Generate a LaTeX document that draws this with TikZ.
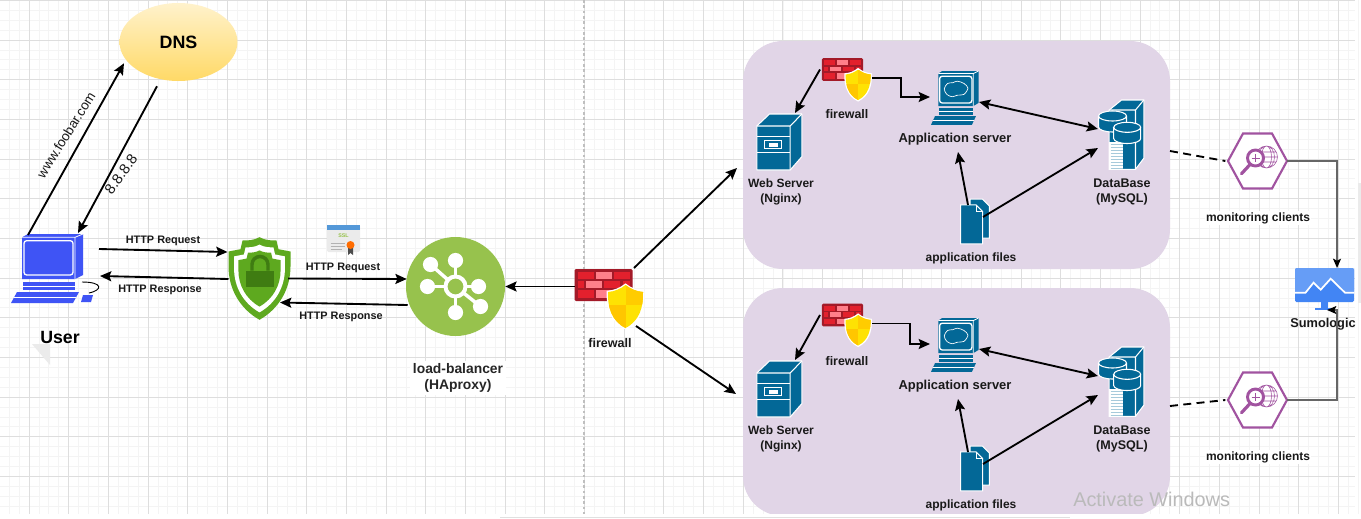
\documentclass[tikz,border=0pt]{standalone}
\usepackage{fontspec}
\setmainfont{Liberation Sans}
\usetikzlibrary{arrows.meta,shapes.geometric}

\definecolor{gridminor}{RGB}{244,244,244}
\definecolor{gridmajor}{RGB}{222,222,222}
\definecolor{usrblue}{RGB}{63,84,245}
\definecolor{srvteal}{RGB}{3,104,151}
\definecolor{panelfill}{RGB}{225,213,231}
\definecolor{lbgreen}{RGB}{151,194,77}
\definecolor{shieldgreen}{RGB}{94,169,31}
\definecolor{lockgreen}{RGB}{63,124,18}
\definecolor{brickdark}{RGB}{163,26,40}
\definecolor{brickred}{RGB}{227,32,45}
\definecolor{brickpink}{RGB}{255,127,138}
\definecolor{hexpurple}{RGB}{161,83,160}
\definecolor{sumolight}{RGB}{102,157,246}
\definecolor{sumodark}{RGB}{66,133,244}
\definecolor{dnstop}{RGB}{255,242,204}
\definecolor{dnsbottom}{RGB}{255,217,102}

\tikzset{
  every pic/.style={yscale=-1},
  arr/.style={-{Stealth[length=8.5pt,width=7.5pt,inset=1.5pt]},line width=1.4pt,black},
  biarr/.style={{Stealth[length=8.5pt,width=7.5pt,inset=1.5pt]}-{Stealth[length=8.5pt,width=7.5pt,inset=1.5pt]},line width=1.4pt,black},
  grayarr/.style={-{Stealth[length=7pt,width=6pt,inset=1.5pt,black]},line width=.9pt,black!60},
  dashline/.style={line width=1.4pt,black,dash pattern=on 6pt off 4pt},
  iconbox/.style={inner sep=0pt,outer sep=0pt,rectangle},
  lbl/.style={font=\bfseries\fontsize{9}{11.2}\selectfont,align=center,inner sep=0.75pt,text=black!90},
  lblhttp/.style={font=\bfseries\fontsize{8.15}{10}\selectfont,align=center,inner sep=0.75pt,text=black!90},
  lblbig/.style={font=\bfseries\fontsize{10.4}{12}\selectfont,align=center,inner sep=2pt,text=black!85},
  pics/pc/.style={code={
    \fill[#1] (11,3.3) -- (17,0) -- (72,0) -- (72,41) -- (64,45) -- (11,45) -- cycle;
    \draw[white,line width=.6pt] (11,3.3) -- (64,3.3) -- (72,0) (64,3.3) -- (64,45);
    \draw[white,line width=1pt,rounded corners=2pt] (13,6.7) rectangle (62,41);
    \fill[#1] (12,48) -- (64,48) -- (64,56) -- (12,56) -- cycle;
    \draw[white,line width=.5pt] (12,52) -- (64,52);
    \fill[#1] (6,58) -- (68,58) -- (62,69) -- (0,69) -- cycle;
    \draw[white,line width=.4pt] (3,63) -- (65,63);
  }},
  pics/pcmouse/.style={code={
    \fill[#1] (72,61) -- (82,61) -- (80,68) -- (70,68) -- cycle;
    \draw[black,line width=.7pt] (71,48) .. controls (92,48) and (92,56) .. (78,59);
  }},
  pics/pccloud/.style={code={
    \draw[white,line width=.5pt] plot[smooth cycle] coordinates {(20,23) (25,16) (33,15) (40,13) (50,16) (56,22) (50,30) (40,31) (32,33) (24,30)};
  }},
  pics/server/.style={code={
    \fill[srvteal] (-22.7,-16) -- (-10,-28) -- (22.3,-28) -- (22.3,14.7) -- (10.7,28) -- (-22.7,28) -- cycle;
    \draw[white,line width=.8pt,line join=round] (-22.7,-16) -- (-10,-28) -- (22.3,-28) -- (22.3,14.7) -- (10.7,28) -- (-22.7,28) -- cycle;
    \draw[white,line width=.8pt] (-22.7,-16) -- (10.7,-16) -- (22.3,-28) (10.7,-16) -- (10.7,28);
    \draw[white,line width=.8pt] (-22.7,-5.3) -- (10.7,-5.3) (-22.7,10.7) -- (10.7,10.7);
    \draw[white,line width=.8pt,fill=srvteal] (-15,-1.3) rectangle (2.3,6.7);
    \fill[white] (-11,1) rectangle (-1.5,4.5);
  }},
  pics/database/.style={code={
    \fill[srvteal] (-12.3,-25) -- (0,-35) -- (22.3,-35) -- (22.3,23.3) -- (14,34.3) -- (-12.3,34.3) -- cycle;
    \draw[white,line width=.8pt] (-12.3,-25) -- (0,-35) -- (22.3,-35) -- (22.3,23.3) -- (14,34.3) -- (-12.3,34.3) -- cycle;
    \draw[white,line width=.8pt] (-12.3,-25) -- (14,-25) -- (22.3,-35) (14,-25) -- (14,34.3);
    \fill[white] (-12.3,6.7) rectangle (1.7,34.3);
    \foreach \yy in {9,12,...,33}
      \draw[srvteal!35,line width=.4pt] (-11,\yy) -- (1,\yy);
    \foreach \cx/\cy/\rx/\cb in {-9/-19/14/-8,5.7/-7.7/13.5/3.5}{
      \draw[white,line width=.8pt,fill=srvteal] (\cx-\rx,\cy) -- (\cx-\rx,\cb) arc[start angle=180,end angle=0,x radius=\rx,y radius=5] -- (\cx+\rx,\cy) arc[start angle=0,end angle=-180,x radius=\rx,y radius=5] -- cycle;
      \draw[white,line width=.8pt] (\cx-\rx,\cy) arc[start angle=180,end angle=0,x radius=\rx,y radius=5];
    }
  }},
  pics/files/.style={code={
    \draw[white,line width=.8pt,fill=srvteal] (-5,-22.3) -- (7.5,-22.3) -- (14.3,-15.5) -- (14.3,16.7) -- (-5,16.7) -- cycle;
    \draw[white,line width=.8pt,fill=srvteal] (-14.3,-16.7) -- (0.9,-16.7) -- (7.7,-9.9) -- (7.7,22.3) -- (-14.3,22.3) -- cycle;
    \draw[white,line width=.5pt] (0.9,-16.7) -- (0.9,-9.9) -- (7.7,-9.9);
  }},
  pics/wall/.style={code={
    \fill[brickdark,rounded corners=1pt] (-29,-16) rectangle (29,16);
    \foreach \ya/\yb/\xa/\xb/\col in {
      -13/-6/-25.5/-10/brickred,-13/-6/-7.7/8.3/brickpink,-13/-6/10/26/brickred,
      -3.7/2.7/-25.5/-20/brickred,-3.7/2.7/-17.7/-1.7/brickpink,-3.7/2.7/0.7/16.7/brickred,-3.7/2.7/19/26/brickred,
      5.3/12.7/-25.5/-10/brickred,5.3/12.7/-7.7/8.3/brickpink,5.3/12.7/10/26/brickred}
      \fill[\col] (\xa,\ya) rectangle (\xb,\yb);
    % yellow badge
    \draw[white,line width=2pt,fill=white] (22,0) .. controls (27,4) and (33,6.5) .. (39.5,7) .. controls (40,22) and (36,36) .. (22,43) .. controls (8,36) and (4,22) .. (4.5,7) .. controls (11,6.5) and (17,4) .. (22,0) -- cycle;
    \begin{scope}
      \clip (22,0) .. controls (27,4) and (33,6.5) .. (39.5,7) .. controls (40,22) and (36,36) .. (22,43) .. controls (8,36) and (4,22) .. (4.5,7) .. controls (11,6.5) and (17,4) .. (22,0) -- cycle;
      \fill[yellow!85!orange] (0,0) rectangle (45,45);
      \fill[orange!40!yellow] (22,0) rectangle (45,20);
      \fill[orange!45!yellow] (0,20) rectangle (22,45);
    \end{scope}
  }},
  pics/greenshield/.style={code={
    \foreach \sc/\col in {1/shieldgreen,.82/white,.68/shieldgreen}
      \fill[\col,scale=\sc] (0,-41.3) .. controls (6,-38) and (12,-38) .. (17,-38) -- (19,-29.3) -- (31,-27) -- (31,-12) .. controls (31,10) and (20,30) .. (0,41.3) .. controls (-20,30) and (-31,10) .. (-31,-12) -- (-31,-27) -- (-19,-29.3) -- (-17,-38) .. controls (-12,-38) and (-6,-38) .. (0,-41.3) -- cycle;
    \fill[lockgreen] (-13.3,-8) rectangle (14,8.7);
    \draw[lockgreen,line width=2.6pt] (-7.5,-8) -- (-7.5,-14) arc[start angle=180,end angle=360,radius=8] -- (8.5,-8);
  }},
  pics/hub/.style={code={
    \foreach \hx/\hy in {-25/-22,0/-26,23/0,25/20,0/26,-28/0}{
      \draw[white,line width=2.6pt] (0,0) -- (\hx,\hy);
      \fill[white] (\hx,\hy) circle[radius=7.6];
    }
    \draw[white,line width=3pt,fill=lbgreen] (0,0) circle[radius=10];
  }},
  pics/cert/.style={code={
    \fill[black!8,rounded corners=1pt] (-16.5,-15) rectangle (16.5,12);
    \fill[cyan!60!blue!70] (-16.5,-15) rectangle (16.5,-10.5);
    \node[font=\bfseries\fontsize{4}{4}\selectfont,text=lbgreen,inner sep=0pt] (ssltext) at (0,-4) {SSL};
    \draw[black!30,line width=.5pt] (-13,3) -- (1,3) (-13,6) -- (1,6) (-13,9) -- (-2,9);
    \fill[black!70] (4.5,6) -- (9.5,6) -- (9.5,15) -- (7,13) -- (4.5,15) -- cycle;
    \fill[orange!85!red] (7,5) circle[radius=4];
  }},
  pics/hexmon/.style={code={
    \draw[hexpurple,line width=1.6pt,fill=white] (-29.5,0) -- (-14.5,-27.5) -- (14.5,-27.5) -- (29.5,0) -- (14.5,27.5) -- (-14.5,27.5) -- cycle;
    \draw[hexpurple,line width=.4pt] (9,-4) circle[radius=11] (9,-4) ellipse (5 and 11) (9,-4) ellipse (8 and 11) (-2,-4) -- (20,-4) (0,-9) -- (18,-9) (0,1) -- (18,1);
    \draw[hexpurple,line width=2.4pt,line cap=round] (-7,3) -- (-16,12.7);
    \draw[hexpurple,line width=2.2pt,fill=white] (-2,-3) circle[radius=8];
    \draw[hexpurple,line width=.4pt] (-6,-3) -- (2,-3) (-2,-7) -- (-2,1);
  }},
  pics/sumo/.style={code={
    \fill[sumodark,rounded corners=1pt] (-29.5,-17) rectangle (29.5,17);
    \fill[sumolight,rounded corners=1pt] (-29.5,-17) -- (29.5,-17) -- (29.5,7.7) -- (20.5,7.7) -- (6.2,-6.3) -- (-3.8,4.7) -- (-11,-2.3) -- (-19,7.7) -- (-29.5,7.7) -- cycle;
    \draw[white,line width=1.3pt] (-29.5,7.7) -- (-19,7.7) -- (-11,-2.3) -- (-3.8,4.7) -- (6.2,-6.3) -- (20.5,7.7) -- (29.5,7.7);
    \fill[sumodark] (-3.8,17) rectangle (3.8,23);
    \fill[sumodark] (-9.5,23) rectangle (10.5,25);
  }}
}

\begin{document}
\begin{tikzpicture}[x=0.75pt,y=0.75pt,yscale=-1,xscale=1]
\useasboundingbox (0,0) rectangle (1361,518);
\fill[white] (0,0) rectangle (1361,518);

%grid
\foreach \k in {0,...,137}
  \draw[gridminor,line width=.6pt] (-0.76+\k*9.92,0) -- (-0.76+\k*9.92,514);
\foreach \k in {0,...,51}
  \draw[gridminor,line width=.6pt] (0,0.3+\k*9.92) -- (1355,0.3+\k*9.92);
\foreach \k in {3,7,...,135}
  \draw[gridmajor,line width=.7pt] (-0.76+\k*9.92,0) -- (-0.76+\k*9.92,514);
\foreach \k in {0,4,...,48}
  \draw[gridmajor,line width=.7pt] (0,0.3+\k*9.92) -- (1355,0.3+\k*9.92);

%divider
\draw[black!25,line width=.9pt,dash pattern=on 2pt off 2pt] (584,0) -- (584,514);

%fold mark under the user label
\fill[black!8] (32,344) -- (50,344) -- (50,365) -- cycle;

%DNS
\node (dns) [ellipse,top color=dnstop,bottom color=dnsbottom,minimum width=88.5pt,minimum height=58.5pt,inner sep=0pt,font=\bfseries\fontsize{13.4}{15}\selectfont] at (178.5,42) {DNS};

%User
\node (user) [iconbox,minimum width=66.75pt,minimum height=51.75pt] at (55.5,268.5) {};
\pic at (11,234) {pc=usrblue};
\pic at (11,234) {pcmouse=usrblue};
\node (userlabel) [font=\bfseries\fontsize{13.3}{15}\selectfont] at (60,337) {User};

%Shield
\node (shield) [iconbox,minimum width=46.5pt,minimum height=62pt] at (259.5,278.5) {};
\pic at (shield) {greenshield};

%SSL
\node (ssl) [iconbox,minimum width=24.75pt,minimum height=22.5pt] at (343.5,240) {};
\pic at (ssl) {cert};

%Load balancer
\node (lb) [circle,fill=lbgreen,minimum size=74.25pt,inner sep=0pt] at (455.5,286.5) {};
\pic at (lb) {hub};
\node (lblabel) [lblbig,fill=white] at (458,378) {load-balancer\\(HAproxy)};

%Front firewall
\node (fw) [iconbox,minimum width=43.5pt,minimum height=24pt] at (603.5,285) {};
\pic at (fw) {wall};
\node (fwlabel) [lbl,font=\bfseries\fontsize{9.4}{11}\selectfont] at (610,343) {firewall};
\coordinate (fwtop) at (737,168);
\coordinate (fwbot) at (736,394);

% Text Node
\node (req) [lblhttp] at (163,240.5) {HTTP Request};
\node (resp) [lblhttp] at (160,289.5) {HTTP Response};
\node (reqb) [lblhttp] at (343,267.5) {HTTP Request};
\node (respb) [lblhttp] at (341,316.5) {HTTP Response};
\node (www) [lbl,font=\fontsize{10}{12}\selectfont,rotate=58] at (66,135) {www.foobar.com};
\node (ip) [lbl,font=\fontsize{11}{13}\selectfont,rotate=54] at (121,174) {8.8.8.8};

%Left part connectors
\draw[arr] ([shift={(-27.5,1)}]user.north) -- ([shift={(-54.5,-18)}]dns.south);
\draw[arr] ([shift={(-21.5,5)}]dns.south) -- ([shift={(22.5,-1)}]user.north);
\draw[arr] ([shift={(-1,-19.5)}]user.east) -- ([shift={(-1,-26.5)}]shield.west);
\draw[arr] ([shift={(0,0.5)}]shield.west) -- ([shift={(0,7.5)}]user.east);
\draw[arr] ([shift={(-2.5,0)}]shield.east) -- ([shift={(1,-7.5)}]lb.west);
\draw[arr] ([shift={(2,18.5)}]lb.west) -- ([shift={(-10.5,24)}]shield.east);
\draw[arr] ([shift={(0,1.5)}]fw.west) -- (lb.east);
\draw[arr] ([shift={(1.5,-17)}]fw.east) -- (fwtop);
\draw[arr] ([shift={(3.5,41)}]fw.east) -- (fwbot);

%Panels
\foreach \i/\s/\f/\e in {1/0/69.5/29,2/247/68/38}{
\begin{scope}[shift={(0,\s)}]
  \node (panel\i) [iconbox,fill=panelfill,rounded corners=30pt,minimum width=320.25pt,minimum height=171pt] at (956.5,155) {};
  \node (web\i) [iconbox,minimum width=33.75pt,minimum height=42pt] at (779.5,142) {};
  \pic at (web\i) {server};
  \node (app\i) [iconbox,minimum width=35.25pt,minimum height=40.5pt] at (954.5,98) {};
  \pic[xscale=.66,yscale=.78] at (931,71) {pc=srvteal};
  \pic[xscale=.66,yscale=.78] at (931,71) {pccloud};
  \node (db\i) [iconbox,minimum width=35.25pt,minimum height=52.5pt] at (1121.5,135) {};
  \pic at (db\i) {database};
  \node (files\i) [iconbox,minimum width=22.5pt,minimum height=33.75pt] at (975,221.5) {};
  \pic at (files\i) {files};
  \node (sfw\i) [iconbox,minimum width=30.75pt,minimum height=17.25pt] at (842.5,\f) {};
  \pic[scale=.71] at (sfw\i) {wall};
  % Text Node
  \node (sfwlabel\i) [lbl,font=\bfseries\fontsize{9.3}{11}\selectfont] at (847,114) {firewall};
  \node (applabel\i) [lbl,font=\bfseries\fontsize{9.7}{11}\selectfont] at (955,139.5) {Application server};
  \node (weblabel\i) [lbl] at (781,192) {Web Server\\(Nginx)};
  \node (dblabel\i) [lbl,font=\bfseries\fontsize{9.4}{11.2}\selectfont] at (1122,192) {DataBase\\(MySQL)};
  \node (fileslabel\i) [lbl] at (971,258.5) {application files};
  %connectors
  \draw[arr] ([shift={(-2,0)}]sfw\i.west) -- ([shift={(15.5,-1)}]web\i.north);
  \draw[arr] ([shift={(9,8.5)}]sfw\i.east) -- ++(\e,0) |- ([shift={(-1,-1)}]app\i.west);
  \draw[biarr] ([shift={(1,4)}]app\i.east) -- ([shift={(0,-6)}]db\i.west);
  \draw[arr] ([shift={(-7,6)}]files\i.north) -- ([shift={(3.5,27)}]app\i.south);
  \draw[arr] ([shift={(-7,-4.5)}]files\i.east) -- ([shift={(0,13)}]db\i.west);
\end{scope}
}

%Monitoring
\foreach \i/\y in {1/161,2/400}{
  \node (hex\i) [iconbox,minimum width=44.25pt,minimum height=42pt] at (1257.5,\y) {};
  \pic at (hex\i) {hexmon};
  \node (hexlabel\i) [lbl,fill=white,inner sep=1pt] at (1258,\y+57) {monitoring clients};
}
\draw[dashline] ([yshift=-3pt]panel1.east) -- ([xshift=-2pt]hex1.west);
\draw[dashline] ([yshift=3pt]panel2.east) -- ([xshift=-2pt]hex2.west);

%Sumologic
\node (sumo) [iconbox,minimum width=44.25pt,minimum height=31.5pt] at (1324.5,289) {};
\pic at (1324.5,285) {sumo};
\node (sumolabel) [lbl,font=\bfseries\fontsize{9.6}{11}\selectfont] at (1323,324) {Sumologic};
\draw[grayarr] (hex1.east) -| ([xshift=9.4pt]sumo.north);
\draw[grayarr] (hex2.east) -| ([xshift=9.4pt]sumo.south) -- ([xshift=1.9pt]sumo.south);

%window edges
\fill[white] (0,514) rectangle (1361,518);
\fill[black!12] (500,516.5) rectangle (1070,518);
\fill[black!8] (1358,183) rectangle (1361,303);

%Watermark
\node (activate) [anchor=west,inner sep=0pt,text=black!27,font=\fontsize{14.9}{16}\selectfont] at (1073,499) {Activate Windows};
\end{tikzpicture}
\end{document}
